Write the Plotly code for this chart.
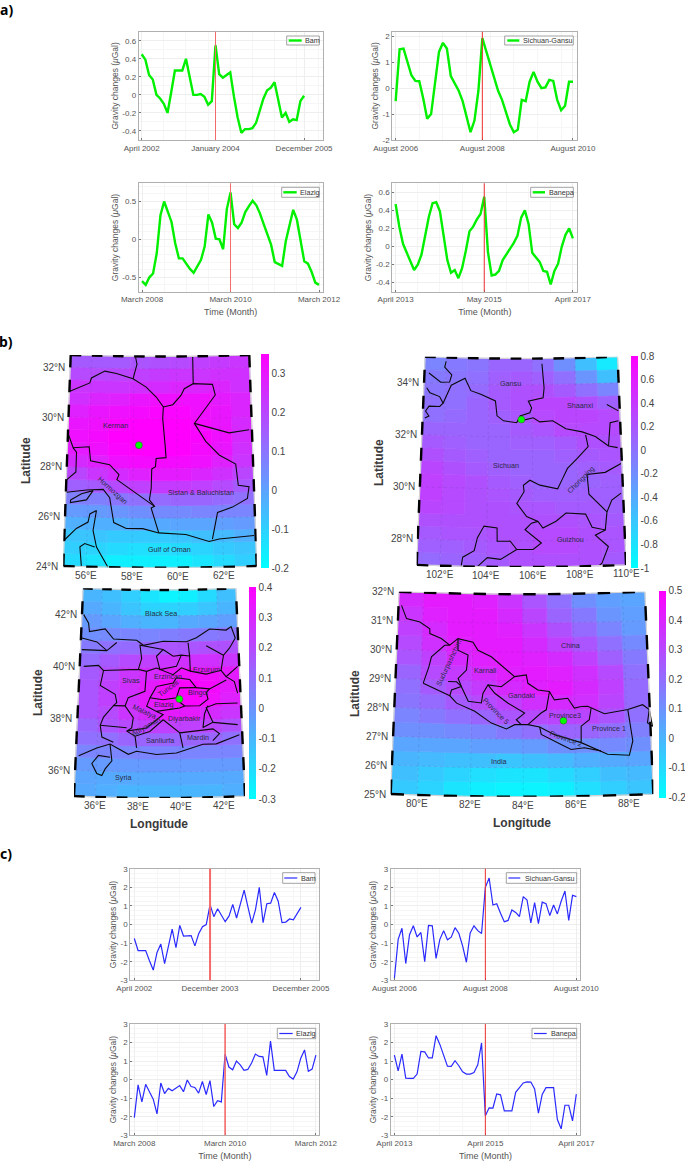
import math
import plotly.graph_objects as go

W, H = 685, 1162
GREEN, BLUE = "#00f000", "#2a2aff"
TXT = "#555555"
FONT = "Liberation Sans"

# ---------------- time series (µGal) ----------------
a_bam = [.45,.39,.22,.17,0,-.04,-.1,-.2,.03,.27,.27,.27,.40,.2,0,0,.01,-.02,-.11,-.07,.55,.23,.19,.22,.25,-.02,-.25,-.42,-.38,-.38,-.37,-.31,-.18,-.04,.05,.08,.14,-.05,-.25,-.2,-.3,-.27,-.28,-.07,-.01]
a_sichuan = [-.5,1.5,1.53,1.0,.5,.28,.27,-.4,-1.18,-1.0,.2,1.4,1.75,1.53,.47,.2,-.1,-.5,-1.05,-1.7,-1.25,-.1,1.93,1.4,.9,.4,-.1,-.45,-.9,-1.4,-1.7,-1.6,-.45,-.5,.25,.63,.25,0,.03,.32,.28,-.45,-.85,-.68,.25,.25]
a_elazig = [-.55,-.6,-.5,-.45,-.18,.32,.5,.37,.23,-.05,-.25,-.25,-.32,-.39,-.44,-.35,-.27,-.09,.33,.22,.01,0,-.13,.4,.62,.2,.15,.22,.36,.44,.51,.45,.34,.2,.07,-.07,-.3,-.32,-.35,-.02,.2,.39,.26,0,-.29,-.32,-.43,-.57,-.6]
a_banepa = [.47,.22,.03,-.07,-.17,-.26,-.2,-.09,.12,.33,.48,.49,.39,.12,-.15,-.29,-.26,-.35,-.24,-.05,.17,.22,.3,.36,.55,-.06,-.32,-.31,-.27,-.15,-.09,-.03,.04,.12,.32,.4,.25,-.07,-.12,-.17,-.27,-.28,-.42,-.27,-.19,0,.13,.2,.09]
c_bam = [-.75,-1.4,-1.4,-1.4,-1.95,-2.45,-1.5,-1.05,-2.1,-1.2,-.25,-1.25,-.05,-.62,-.6,-.6,-1.15,-.5,-.12,0,1.07,.42,.85,.5,.15,.45,1.08,.35,1.1,1.85,.95,.07,.8,2.0,.1,1.12,1.15,1.72,1.25,.1,.13,.3,.25,.55,.92]
c_sichuan = [-2.9,-.8,-.2,-2.1,-.55,-.07,-.67,-.43,-2.0,-.05,-.07,-1.82,-.8,-.33,-.82,-.68,-.17,-.47,-1.15,-2.03,-.45,-.07,-.33,-.48,2.0,2.5,1.05,1.12,.6,.15,.22,.78,.65,.43,1.5,1.32,.08,1.18,.05,1.2,1.12,.48,1.05,.57,1.25,1.8,.22,1.57,1.5]
c_elazig = [-2.05,-.28,-1.2,-.25,-.65,-1.05,-1.85,-.18,-.75,-.47,-.6,-.45,-.32,-.65,-.02,-.37,-.42,-.73,-.1,-.8,-.05,-1.45,-1.13,-1.2,1.38,.68,.53,1.0,.8,.5,.55,.9,1.38,1.25,1.23,.23,2.08,.5,.5,.5,.5,.17,.03,.42,1.15,1.6,.45,.57,1.32]
c_banepa = [1.32,.47,1.38,.08,.07,.07,.3,1.52,1.5,1.17,1.17,2.37,1.9,1.3,.73,.72,1.02,.75,.42,.3,.3,.38,.8,1.98,-1.95,-1.52,-1.53,-.77,-.82,-1.68,-1.68,-1.68,-.68,-.45,-.18,-.12,-.13,-.5,-1.8,-.8,-.43,-.43,-.43,-2.15,-2.65,-1.38,-1.38,-2.22,-.78]

yt_bam = [-.4,-.2,0,.2,.4,.6]
yt_sichuan = [-2,-1,0,1,2]
yt_elazig = [-.5,0,.5]
yt_c = [-3,-2,-1,0,1,2,3]

# ---------------- gridded fields (rows south to north, columns west to east) ----------------
field_kerman = [
[-.12,-.14,-.16,-.17,-.17,-.16,-.14,-.12,-.10],[-.10,-.11,-.12,-.13,-.13,-.12,-.11,-.09,-.07],
[-.07,-.07,-.08,-.08,-.08,-.07,-.06,-.05,-.03],[-.03,-.03,-.03,-.02,-.02,-.01,0,.01,.02],
[.02,.02,.03,.04,.05,.05,.06,.06,.06],[.07,.08,.10,.11,.12,.13,.13,.12,.11],
[.14,.16,.19,.21,.22,.22,.21,.19,.16],[.2,.23,.26,.28,.29,.29,.27,.25,.2],
[.26,.28,.31,.33,.33,.33,.31,.28,.23],[.29,.32,.34,.35,.35,.35,.33,.3,.25],
[.31,.33,.35,.35,.35,.35,.34,.31,.26],[.3,.32,.34,.35,.35,.35,.33,.3,.26],
[.28,.3,.32,.33,.34,.34,.32,.3,.27],[.25,.27,.28,.3,.31,.32,.31,.29,.27],
[.23,.23,.24,.25,.26,.27,.27,.27,.25],[.19,.19,.20,.21,.22,.23,.24,.25,.25],
[.15,.15,.16,.17,.18,.19,.21,.22,.23]]
field_sichuan = [
[.05,.08,.12,.17,.22,.25,.25,.22,.18],[.12,.14,.17,.20,.24,.27,.27,.24,.20],
[.17,.19,.21,.22,.24,.26,.26,.23,.20],[.24,.23,.22,.22,.22,.23,.23,.20,.18],
[.3,.27,.24,.22,.2,.19,.18,.16,.14],[.34,.29,.25,.2,.17,.14,.13,.12,.13],
[.34,.28,.22,.17,.13,.1,.09,.1,.12],[.3,.24,.18,.13,.1,.09,.09,.12,.15],
[.24,.18,.14,.1,.09,.1,.12,.16,.2],[.16,.12,.09,.09,.11,.14,.18,.22,.24],
[.09,.07,.08,.1,.15,.2,.26,.29,.28],[.03,.04,.08,.14,.21,.28,.33,.33,.27],
[0,.02,.07,.15,.24,.3,.31,.25,.12],[-.03,0,.06,.15,.22,.24,.18,.03,-.15],
[-.07,-.04,.03,.12,.17,.14,0,-.25,-.55],[-.12,-.08,-.01,.07,.1,.03,-.2,-.55,-.85]]
field_elazig = [
[-.07,-.08,-.09,-.09,-.1,-.1,-.09,-.08],[-.05,-.06,-.07,-.07,-.07,-.07,-.07,-.06],
[-.02,-.02,-.03,-.03,-.03,-.03,-.03,-.02],[.03,.03,.03,.04,.04,.04,.04,.03],
[.09,.1,.12,.13,.13,.13,.12,.1],[.13,.16,.2,.22,.23,.23,.21,.18],
[.16,.2,.25,.29,.32,.32,.29,.25],[.17,.22,.27,.33,.37,.38,.35,.31],
[.17,.22,.27,.33,.37,.39,.37,.33],[.15,.2,.25,.29,.33,.35,.35,.32],
[.11,.15,.19,.22,.25,.27,.27,.26],[.06,.09,.11,.13,.16,.17,.18,.18],
[.01,.02,.03,.04,.05,.07,.07,.08],[-.03,-.05,-.08,-.1,-.09,-.07,-.05,-.04],
[-.07,-.1,-.14,-.18,-.19,-.17,-.14,-.1],[-.09,-.12,-.17,-.23,-.27,-.25,-.2,-.13]]
field_banepa = [
[-.06,-.09,-.12,-.15,-.17,-.17,-.15,-.11,-.07,-.04],[-.03,-.06,-.08,-.11,-.12,-.12,-.1,-.07,-.03,-.01],
[0,-.01,-.03,-.03,-.04,-.03,-.01,.02,.04,.05],[.05,.05,.05,.06,.06,.08,.1,.11,.12,.1],
[.1,.11,.12,.14,.17,.2,.22,.22,.2,.15],[.14,.16,.19,.22,.26,.29,.31,.31,.27,.19],
[.18,.21,.25,.29,.33,.37,.38,.37,.31,.21],[.2,.25,.3,.34,.38,.41,.42,.39,.32,.21],
[.23,.29,.34,.38,.41,.42,.41,.37,.29,.19],[.26,.33,.38,.41,.42,.41,.38,.32,.24,.16],
[.3,.37,.41,.43,.42,.39,.33,.27,.19,.12],[.33,.39,.42,.43,.41,.35,.28,.21,.14,.08],
[.36,.41,.43,.42,.39,.31,.23,.16,.09,.06],[.39,.42,.43,.41,.36,.27,.19,.11,.06,.05]]

# ---------------- boundaries, lon/lat ----------------
bnd_kerman = [
[(55.02,31.04),(55.94,31.4),(56.01,31.6),(56.63,31.89),(57.18,31.8),(57.96,31.6),(58.58,31.27),(59.05,30.87),(59.38,30.47),(59.35,30),(59.46,28.93),(59.5,28.43),(59.05,28.4),(59.02,28.07),(58.85,27.97),(58.83,27.2),(58.75,26.73),(58.98,26.47),(58.83,26.4),(59.02,25.8),(59.17,25.4)],
[(59.38,30.47),(59.82,30.56),(60.2,30.93),(60.36,31.2),(60.78,31.4),(61.68,31.36),(61.8,30.93),(60.81,29.8),(61.32,29.07),(61.92,28.51),(62.66,28.13),(62.75,27.27),(63.23,27.2),(63.14,26.73),(62.46,26.4),(61.79,26.2),(61.54,25.13)],
[(60.81,29.8),(62.4,29.39),(63.32,29.49)],
[(57.96,31.6),(58.14,32.19),(58.07,32.47)],
[(60.77,32.47),(60.78,31.4)],
[(55.01,29.33),(55.26,28.77),(55.99,28.83),(56.07,28.27),(56.94,28.13),(57.37,27.73),(57.28,27.53),(58.01,27.07),(58.98,26.47)],
[(55.26,28.77),(55.42,28.6),(55.42,27.8),(55.01,27.47)],
[(55.03,26.97),(55.92,27.09),(56.67,27.13),(56.97,26.8),(57.17,25.8),(57.73,25.57),(58.46,25.57),(59.17,25.4),(60.37,25.33),(61.39,25.04),(61.84,25.13),(63.38,25.23)],
[(55.03,25.07),(55.52,25.53),(56.03,25.8),(56.1,26.13),(56.39,26.27),(56.26,25.47),(56.43,24.8),(56.95,24)],
[(55.79,24),(55.7,24.8),(55.91,24.93),(56.35,24.8)],
[(55.22,26.67),(55.7,26.93),(56.22,27.07),(55.93,26.69),(55.22,26.56),(55.22,26.67)],
]
bnd_sichuan = [
[(101.99,34.85),(101.93,34.63),(102.27,34.34),(102.18,34.06),(101.77,34.04),(101.21,34.38)],
[(101.13,33.81),(101.29,33.62),(101.74,33.49),(101.91,33.24),(101.76,33.11),(101.27,33.11),(101.12,32.92),(101.28,32.73),(101.1,32.65)],
[(101.91,33.24),(102.26,33.94),(102.89,34.22),(103.17,33.75),(103.63,33.62),(104.31,33.37),(104.39,32.8),(104.69,32.61),(105.29,32.54),(105.44,32.8),(105.89,32.92),(105.97,33.11),(105.82,33.37),(106.5,33.49),(106.55,33.87),(106.5,34.38),(106.46,34.8)],
[(105.44,32.8),(105.66,32.65),(106.04,32.73),(106.34,32.57),(106.93,32.61),(107.52,32.29),(108.26,32.16),(108.85,31.97),(109.43,31.59),(109.84,31.51)],
[(108.41,32.04),(108.51,31.59),(108.01,31.15),(107.56,30.77),(107.34,30.39),(107.11,29.99),(106.32,30.14),(105.88,30.33),(105.59,30.14),(105.62,29.89),(105.3,29.44),(105.73,28.94),(106.23,28.75),(106.44,28.49),(107.02,28.75),(107.46,29.06),(108.32,29),(108.59,28.49),(109.16,28.37),(109.26,29.06),(108.49,29.76),(108.43,30.52),(109.24,30.58),(109.96,30.9)],
[(109.26,29.06),(109.49,29.51),(109.91,29.76)],
[(109.43,31.59),(109.54,32.48),(109.92,32.54)],
[(109.42,33.18),(109.94,32.92)],
[(102.91,27),(102.97,27.35),(103.46,27.61),(103.59,28.11),(103.87,28.56),(104.44,28.49),(104.45,27.99),(105.02,27.99),(105.3,27.67),(106.01,27.67),(106.37,27.92),(105.94,28.24),(105.66,28.43),(105.94,28.68),(106.23,28.75)],
[(103.61,27),(104.03,27.35),(104.6,27.29),(105.3,27.67)],
[(109.16,28.37),(108.72,28.18),(109.27,27.73),(108.97,27.1),(108.82,27)],
]
bnd_elazig = [
[(35.09,41.99),(35.36,41.67),(35.42,41.35),(36.22,41.47),(36.66,41.09),(37.84,41.06),(38.18,40.87),(39.19,41.03),(40.37,41),(40.88,41.15),(41.56,41.47),(42.41,41.41),(42.67,41.54),(42.86,41.09)],
[(35.14,36.56),(35.99,36.88),(36.62,37.05),(37.51,36.67),(37.9,36.79),(38.86,36.67),(39.81,36.73),(40.29,36.86),(41.09,37.05),(41.73,37.05),(42.86,37.37)],
[(36.64,36.54),(36.08,36.6),(35.78,36.28),(36.03,35.9),(36.27,35.83),(36.42,36.09),(36.73,36.41),(36.62,37.05)],
[(35.2,40),(35.94,40.06),(36.2,39.87),(36.06,39.29),(36.81,38.97),(36.9,38.65),(36.74,38.53),(36.27,38.08),(36.12,37.76),(36.22,37.31),(36.78,37.12)],
[(35.05,41.09),(35.82,40.96),(36.34,40.64),(36.83,40.96)],
[(35.07,40.64),(36.34,40.64)],
[(36.2,39.87),(37.94,39.94),(38.35,39.87),(38.85,40),(39.68,39.74),(40.1,40),(40.54,39.87),(40.52,40.45),(40.1,40.49),(39.85,40.06),(39.02,39.94),(38.85,40.45),(39.18,40.71),(38.01,40.87),(38.1,40.36),(37.94,39.94)],
[(40.54,39.87),(41.33,39.74),(42.08,39.87),(42.32,39.62),(42.92,40)],
[(40.52,40.45),(40.45,40.96)],
[(42.08,39.87),(42.23,40.45),(42.54,40.71),(42.86,41.09)],
[(41.37,40.83),(42.23,40.45)],
[(39.18,40.71),(39.69,40.45),(40.1,40.49)],
[(42.32,39.62),(42.72,39.42),(42.86,38.97)],
[(38.35,39.87),(38.28,39.1),(37.46,38.85),(37.31,38.53),(36.74,38.53)],
[(38.85,39.29),(39.68,39.42),(39.84,39.62),(40.5,39.55),(40.82,39.23),(41.48,39.17),(42.32,39.49)],
[(38.85,39.29),(38.53,38.85),(39.18,38.78),(39.83,38.85),(40,39.23),(40.82,39.23)],
[(38.53,38.85),(38.37,38.53),(38.85,38.33),(39.99,38.46),(40.24,38.53),(39.83,38.78)],
[(40.24,38.53),(40.97,38.53),(41.39,38.78),(41.31,39.04),(41.48,39.17)],
[(41.37,38.53),(41.2,38.21),(41.11,37.69),(41.6,37.88),(41.29,38.46),(41.78,38.59),(42.84,38.59)],
[(37.31,38.53),(37.72,38.08),(37.65,37.69),(37.41,37.56),(38.37,37.69),(39.02,38.08),(39.18,38.21),(38.85,38.33)],
[(37.41,37.56),(37.82,37.37),(38.53,37.56),(39.18,38.01)],
[(37.82,37.37),(37.9,36.92)],
[(39.18,38.01),(39.98,37.5),(40.13,36.92)],
[(39.98,37.5),(41.59,37.63),(41.9,37.44),(41.57,37.18)],
[(41.6,37.88),(42.8,37.76)],
[(36.12,37.76),(37.41,37.69)],
]
bnd_banepa = [
[(79.12,31.53),(79.34,31.08),(79.88,30.98),(80.28,30.76),(80.29,30.59),(80.75,30.43),(81.09,30.21),(81.41,30.44),(82.01,30.33),(82.21,30.05),(82.74,29.83),(83.14,29.55),(83.66,29.15),(84.12,29.21),(84.18,28.92),(84.57,28.69),(85.02,28.63),(85.21,28.34),(85.73,28.39),(85.98,28.05),(86.25,28.1),(86.5,28.1),(87.14,27.83),(88.05,27.95),(88.63,28.1),(88.88,27.92),(88.98,27.34)],
[(80.09,28.87),(81.14,28.46),(81.41,28.21),(82.12,27.94),(82.77,27.54),(83.35,27.34),(83.67,27.49),(84.18,27.49),(84.63,27.41),(85.2,27.14),(86.22,26.85),(86.97,26.55),(87.22,26.43),(88.05,26.37),(88.2,26.86),(88.05,27.95)],
[(80.09,28.87),(80.29,29.44),(80.38,29.79),(80.89,30.2),(81.09,30.21)],
[(81.14,28.46),(81.2,28.66),(81.58,28.79),(81.39,28.95),(81.06,28.95)],
[(81.41,30.44),(81.42,30.04),(81.82,29.88),(81.77,29.36),(81.45,29.07),(81.58,28.79),(81.86,28.28),(82.37,28.23),(82.43,28.57),(82.62,28.86),(83.14,28.8),(83.66,29.15)],
[(82.62,28.86),(82.89,28.57),(83.41,28.23),(84.05,27.89),(83.73,27.66),(83.92,27.49)],
[(84.18,27.49),(84.69,27.89),(84.89,28),(85.02,28.63)],
[(84.63,27.41),(84.69,27.15),(85.45,26.8),(85.83,26.62),(86.34,26.67),(86.97,26.55)],
[(86.63,28.04),(86.55,27.64),(86.23,27.42),(86.22,26.85)],
[(88.88,27.92),(88.79,27.47),(88.98,27.34)],
]

labels_kerman = [("Kerman",57.18,29.69,0),("Hormozgan",57.11,27.09,42),("Sistan & Baluchistan",61.05,27,0),("Gulf of Oman",59.64,24.72,0)]
labels_sichuan = [("Gansu",105.01,34.04,0),("Shaanxi",108.21,33.18,0),("Sichuan",104.81,30.89,0),("Chongqing",108.14,30.35,-45),("Guizhou",107.62,28.03,0)]
labels_elazig = [("Black Sea",39.1,42.1,0),("Erzurum",41.34,39.91,0),("Erzincan",39.43,39.67,0),("Sivas",37.6,39.5,0),("Tunceli",39.43,39.2,-35),("Bingol",40.9,39.04,0),("Elazig",39.21,38.58,0),("Malatya",38.25,38.33,25),("Diyarbakir",40.2,38.06,0),("Adiyaman",38.34,37.73,-30),("Mardin",40.84,37.32,0),("Sanliurfa",39,37.21,0),("Syria",37.29,35.76,0)]
labels_banepa = [("China",85.86,30.2,0),("Karnali",82.51,29.34,0),("Sudurpashchim",81.08,29.6,-65),("Gandaki",83.92,28.49,0),("Province 5",82.96,27.95,45),("Province3",85.63,27.79,0),("Province 1",87.29,27.3,0),("Province 2",85.62,27,20),("India",83.06,26.2,0)]

fig = go.Figure()
annots, shapes, layout = [], [], {}
ax_n = [0]

def dom(x0, x1, y0, y1):
    return [x0 / W, x1 / W], [1 - y1 / H, 1 - y0 / H]

def new_axes():
    ax_n[0] += 1
    n = ax_n[0]
    return n, ("" if n == 1 else str(n))

def line_panel(values, box, xrange, yrange, yticks, xticks, xlabels, event, color, lw, name,
               redw, redc, leg, xtitle=False, minor_y=None):
    n, s = new_axes()
    dx, dy = dom(*box)
    fig.add_trace(go.Scatter(x=list(range(len(values))), y=values, mode="lines", name=name,
                             line=dict(color=color, width=lw), xaxis="x" + s, yaxis="y" + s,
                             showlegend=False, hoverinfo="skip"))
    grid = "#eeeeee"
    mgrid = "#f6f6f6"
    layout["xaxis" + s] = dict(domain=dx, range=xrange, anchor="y" + s, tickvals=xticks, ticktext=xlabels,
        ticks="inside", ticklen=2, tickcolor="#777", showline=True, mirror=True, linecolor="#b0b0b0", linewidth=1,
        showgrid=True, gridcolor=grid, gridwidth=1, zeroline=False, automargin=False,
        minor=dict(dtick=6, tick0=0, showgrid=True, gridcolor=mgrid, ticks=""),
        tickfont=dict(family=FONT, size=8, color=TXT), tickangle=0,
        title=dict(text="Time (Month)" if xtitle else "", font=dict(family=FONT, size=9, color=TXT), standoff=5))
    layout["yaxis" + s] = dict(domain=dy, range=yrange, anchor="x" + s, tickvals=yticks,
        ticktext=[("%g" % t) for t in yticks], automargin=False,
        ticks="inside", ticklen=2, tickcolor="#777", showline=True, mirror=True, linecolor="#b0b0b0", linewidth=1,
        showgrid=True, gridcolor=grid, zeroline=False,
        minor=dict(dtick=minor_y, showgrid=True, gridcolor=mgrid, ticks=""),
        tickfont=dict(family=FONT, size=8, color=TXT),
        title=dict(text="Gravity changes (<i>μ</i>Gal)", font=dict(family=FONT, size=8.5, color=TXT), standoff=2))
    shapes.append(dict(type="line", xref="x" + s, yref="y" + s + " domain", x0=event, x1=event, y0=0, y1=1,
                       line=dict(color=redc, width=redw)))
    bx0, bx1, by0, by1, kx0, kx1, tx = leg
    shapes.append(dict(type="rect", xref="paper", yref="paper", x0=bx0 / W, x1=bx1 / W, y0=1 - by1 / H, y1=1 - by0 / H,
                       fillcolor="white", line=dict(color="#8a8a8a", width=0.8)))
    ym = 1 - (by0 + by1) / 2 / H
    shapes.append(dict(type="line", xref="paper", yref="paper", x0=kx0 / W, x1=kx1 / W, y0=ym, y1=ym,
                       line=dict(color=color, width=lw)))
    annots.append(dict(xref="paper", yref="paper", x=tx / W, y=ym, text=name, showarrow=False, xanchor="left",
                       yanchor="middle", font=dict(family=FONT, size=7.2, color="#333")))

A1, A2, A3, A4 = (138.7,322.7,31.7,140), (392.3,577.3,31.7,140), (138.7,322.7,183.3,291.7), (392.3,577.3,183.3,291.7)
C1, C2, C3, C4 = (130.3,319.3,868.7,980.3), (390.7,580.3,868.7,980.3), (130.3,319.3,1024,1135.3), (390.7,580.3,1024,1135.3)

line_panel(a_bam, A1, [-.81,49.05], [-.5,.7], yt_bam, [0,20,44], ["April 2002","January 2004","December 2005"], 20, GREEN, 2.4, "Bam", 1, "#f46a6a", (286.7,319.3,36,45,288.7,301.7,303), minor_y=.1)
line_panel(a_sichuan, A2, [-.85,46.1], [-2,2.18], yt_sichuan, [0,22,45], ["August 2006","August 2008","August 2010"], 22, GREEN, 2.4, "Sichuan-Gansu", 1, "#f03030", (504.7,573.3,36,45,507.3,519.3,521), minor_y=.5)
line_panel(a_elazig, A3, [-.9,49], [-.69,.74], yt_elazig, [0,24,48], ["March 2008","March 2010","March 2012"], 24, GREEN, 2.4, "Elazig", 1, "#f46a6a", (281.7,319.3,187.3,197.3,283.3,296.7,297.7), True, minor_y=.1)
line_panel(a_banepa, A4, [-.9,49.2], [-.5,.7], yt_bam, [0,24,48], ["April 2013","May 2015","April 2017"], 24, GREEN, 2.4, "Banepa", 1, "#f03030", (530.7,573.3,187.3,197.3,532.7,545,546.7), True, minor_y=.1)
line_panel(c_bam, C1, [-1.06,48.85], [-3,3], yt_c, [0,20,44], ["April 2002","December 2003","December 2005"], 20, BLUE, 1.2, "Bam", 2, "#f46a6a", (282.7,315,872.7,883.3,284.3,297.3,299), minor_y=.25)
line_panel(c_sichuan, C2, [-.97,49.05], [-3,3], yt_c, [0,24,48], ["August 2006","August 2008","August 2010"], 24, BLUE, 1.2, "Sichuan-Gansu", 1, "#f03030", (506.3,576.7,872.7,883.3,508.3,520.3,522.7), minor_y=.25)
line_panel(c_elazig, C3, [-1.06,48.9], [-3,3], yt_c, [0,24,48], ["March 2008","March 2010","March 2012"], 24, BLUE, 1.2, "Elazig", 1.6, "#f46a6a", (277.3,315.7,1028.3,1038.7,279.3,292.7,294), True, minor_y=.25)
line_panel(c_banepa, C4, [-.97,49.05], [-3,3], yt_c, [0,24,48], ["April 2013","April 2015","April 2017"], 24, BLUE, 1.2, "Banepa", 1, "#f03030", (532,576.7,1028.3,1038.7,534,546.7,548.7), True, minor_y=.25)

COOL = [[0, "#00ffff"], [1, "#ff00ff"]]

def map_panel(field, bnd, labels, lon_rng, lat_rng, dot, box, cbox, crange, cticks, latticks, lonticks, lat_title, lon_title):
    n, s = new_axes()
    lon0, lon1 = lon_rng
    lat0, lat1 = lat_rng
    lonc = (lon0 + lon1) / 2
    phi0 = math.radians((lat0 + lat1) / 2)
    nn = math.sin(phi0)

    def pr(lon, lat):
        rho = 1 / math.tan(phi0) + phi0 - math.radians(lat)
        th = nn * math.radians(lon - lonc)
        return rho * math.sin(th), -rho * math.cos(th)

    def path(pts):
        xs, ys = [], []
        for lon, lat in pts:
            a, b = pr(lon, lat)
            xs.append(a)
            ys.append(b)
        return xs, ys

    kw = dict(xaxis="x" + s, yaxis="y" + s, showlegend=False, hoverinfo="skip")
    rows, cols = len(field), len(field[0])
    dlat = (lat1 - lat0) / rows
    dlon = (lon1 - lon0) / cols
    bins = {}
    nb = 48
    for i, row in enumerate(field):
        for j, v in enumerate(row):
            t = max(0, min(1, (v - crange[0]) / (crange[1] - crange[0])))
            b = round(t * nb)
            la0, lo0 = lat0 + i * dlat, lon0 + j * dlon
            xs, ys = path([(lo0, la0), (lo0 + dlon, la0), (lo0 + dlon, la0 + dlat), (lo0, la0 + dlat), (lo0, la0)])
            e = bins.setdefault(b, ([], []))
            e[0].extend(xs + [None])
            e[1].extend(ys + [None])
    for b, (xs, ys) in sorted(bins.items()):
        t = b / nb
        col = "rgb(%d,%d,255)" % (round(255 * t), round(255 * (1 - t)))
        fig.add_trace(go.Scatter(x=xs, y=ys, mode="lines", fill="toself", fillcolor=col,
                                 line=dict(color=col, width=0.6), **kw))
    # graticule
    gx, gy = [], []
    for lat in latticks:
        xs, ys = path([(lon0 + (lon1 - lon0) * q / 12, lat) for q in range(13)])
        gx += xs + [None]
        gy += ys + [None]
    for lon in lonticks:
        xs, ys = path([(lon, lat0), (lon, lat1)])
        gx += xs + [None]
        gy += ys + [None]
    fig.add_trace(go.Scatter(x=gx, y=gy, mode="lines", line=dict(color="rgba(60,60,90,.22)", width=0.6, dash="dot"), **kw))
    # boundaries
    bx, by = [], []
    for pts in bnd:
        xs, ys = path(pts)
        bx += xs + [None]
        by += ys + [None]
    fig.add_trace(go.Scatter(x=bx, y=by, mode="lines", line=dict(color="#0a0a0a", width=1.1), **kw))
    # frame
    edge = [(lon0 + (lon1 - lon0) * q / 24, lat0) for q in range(25)] + [(lon1, lat1)]
    edge += [(lon1 - (lon1 - lon0) * q / 24, lat1) for q in range(25)] + [(lon0, lat0)]
    xs, ys = path(edge)
    fig.add_trace(go.Scatter(x=xs, y=ys, mode="lines", line=dict(color="#d4d4d4", width=1.2), cliponaxis=False, **kw))
    fx, fy = [], []
    q = lon0
    while q < lon1:
        for la in (lat0, lat1):
            xs, ys = path([(q, la), (q + .25, la), (min(q + .5, lon1), la)])
            fx += xs + [None]
            fy += ys + [None]
        q += 1
    q = lat0
    while q < lat1:
        for lo in (lon0, lon1):
            xs, ys = path([(lo, q), (lo, min(q + .5, lat1))])
            fx += xs + [None]
            fy += ys + [None]
        q += 1
    fig.add_trace(go.Scatter(x=fx, y=fy, mode="lines", line=dict(color="black", width=2.4), cliponaxis=False, **kw))
    # event marker
    dx_, dy_ = pr(*dot)
    fig.add_trace(go.Scatter(x=[dx_], y=[dy_], mode="markers", marker=dict(color="#00ff00", size=7, line=dict(color="#444", width=0.5)), **kw))
    # tick labels
    tick_font = dict(family=FONT, size=10, color="#444")
    for lat in latticks:
        a, b = pr(lon0, lat)
        annots.append(dict(xref="x" + s, yref="y" + s, x=a, y=b, text="%d°N" % lat, showarrow=False,
                           xanchor="right", yanchor="middle", xshift=-3, font=tick_font))
    for lon in lonticks:
        a, b = pr(lon, lat0)
        annots.append(dict(xref="x" + s, yref="y" + s, x=a, y=b, text="%d°E" % lon, showarrow=False,
                           xanchor="center", yanchor="top", yshift=-1, font=tick_font))
    # colorbar
    cx0, cx1, cy0, cy1 = cbox
    fig.add_trace(go.Scatter(x=[dx_, dx_], y=[dy_, dy_], mode="markers",
        marker=dict(size=1, opacity=0, color=list(crange), cmin=crange[0], cmax=crange[1], colorscale=COOL,
            colorbar=dict(x=cx0 / W, xanchor="left", xref="paper", y=1 - (cy0 + cy1) / 2 / H, yanchor="middle", yref="paper",
                len=(cy1 - cy0) / H, lenmode="fraction", thickness=cx1 - cx0, thicknessmode="pixels",
                xpad=0, ypad=0, outlinewidth=0, ticks="", ticklabelposition="outside",
                tickvals=cticks, ticktext=["%g" % t for t in cticks],
                tickfont=tick_font)), **kw))
    # labels
    for text, lon, lat, ang in labels:
        a, b = pr(lon, lat)
        annots.append(dict(xref="x" + s, yref="y" + s, x=a, y=b, text=text, showarrow=False, textangle=ang,
                           font=dict(family=FONT, size=7.2, color="#2a2a44")))
    dx, dy = dom(*box)
    layout["xaxis" + s] = dict(domain=dx, range=[pr(lon0, lat0)[0], pr(lon1, lat0)[0]], anchor="y" + s, visible=False)
    layout["yaxis" + s] = dict(domain=dy, range=[pr(lonc, lat0)[1], pr(lon0, lat1)[1]], anchor="x" + s, visible=False)
    annots.append(dict(xref="paper", yref="paper", x=lat_title[0] / W, y=1 - lat_title[1] / H, text="<b>Latitude</b>", textangle=-90,
                       xanchor="center", yanchor="middle", showarrow=False, font=dict(family=FONT, size=12, color="#3a3a3a")))
    if lon_title:
        annots.append(dict(xref="paper", yref="paper", x=lon_title[0] / W, y=1 - lon_title[1] / H, text="<b>Longitude</b>",
                           xanchor="center", yanchor="middle", showarrow=False, font=dict(family=FONT, size=12, color="#3a3a3a")))

map_panel(field_kerman, bnd_kerman, labels_kerman, (55,63.45), (24,32.5), (58.26,28.93), (63.3,256.7,355,567.7),
          (260.7,268.3,354.3,568.3), (-.2,.35), [-.2,-.1,0,.1,.2,.3], [24,26,28,30,32], [56,58,60,62], (26,461), None)
map_panel(field_sichuan, bnd_sichuan, labels_sichuan, (101,110), (27,35), (105.5,32.66), (416.7,626,356.7,567),
          (631,638.3,356,568), (-1,.8), [-1,-.8,-.6,-.4,-.2,0,.2,.4,.6,.8], [28,30,32,34], [102,104,106,108,110], (379,462), None)
map_panel(field_elazig, bnd_elazig, labels_elazig, (35,43), (35,43), (39.98,38.8), (74,245,588.3,798),
          (249,256.3,587.3,799), (-.3,.4), [-.3,-.2,-.1,0,.1,.2,.3,.4], [36,38,40,42], [36,38,40,42], (38,693), (159,824))
map_panel(field_banepa, bnd_banepa, labels_banepa, (79,88.9), (25,32), (85.55,27.62), (390.7,653.3,591.7,796.7),
          (659,665.7,590.7,797.3), (-.2,.5), [-.2,-.1,0,.1,.2,.3,.4,.5], [25,26,27,28,29,30,31,32], [80,82,84,86,88], (355,694), (522,823))

for text, x, y in [("a)", 6, 9), ("b)", 6, 341), ("c)", 6, 853)]:
    annots.append(dict(xref="paper", yref="paper", x=x / W, y=1 - y / H, text="<b>%s</b>" % text, showarrow=False,
                       xanchor="center", yanchor="middle", font=dict(family="Noto Sans", size=14, color="black")))

fig.update_layout(width=W, height=H, autosize=False, template="none",
                  margin=dict(l=0, r=0, t=0, b=0, autoexpand=False), paper_bgcolor="white",
                  plot_bgcolor="white", showlegend=False, annotations=annots, shapes=shapes, **layout)
fig.write_html("out.html", post_script="document.body.style.margin='0';", config=dict(displayModeBar=False))
